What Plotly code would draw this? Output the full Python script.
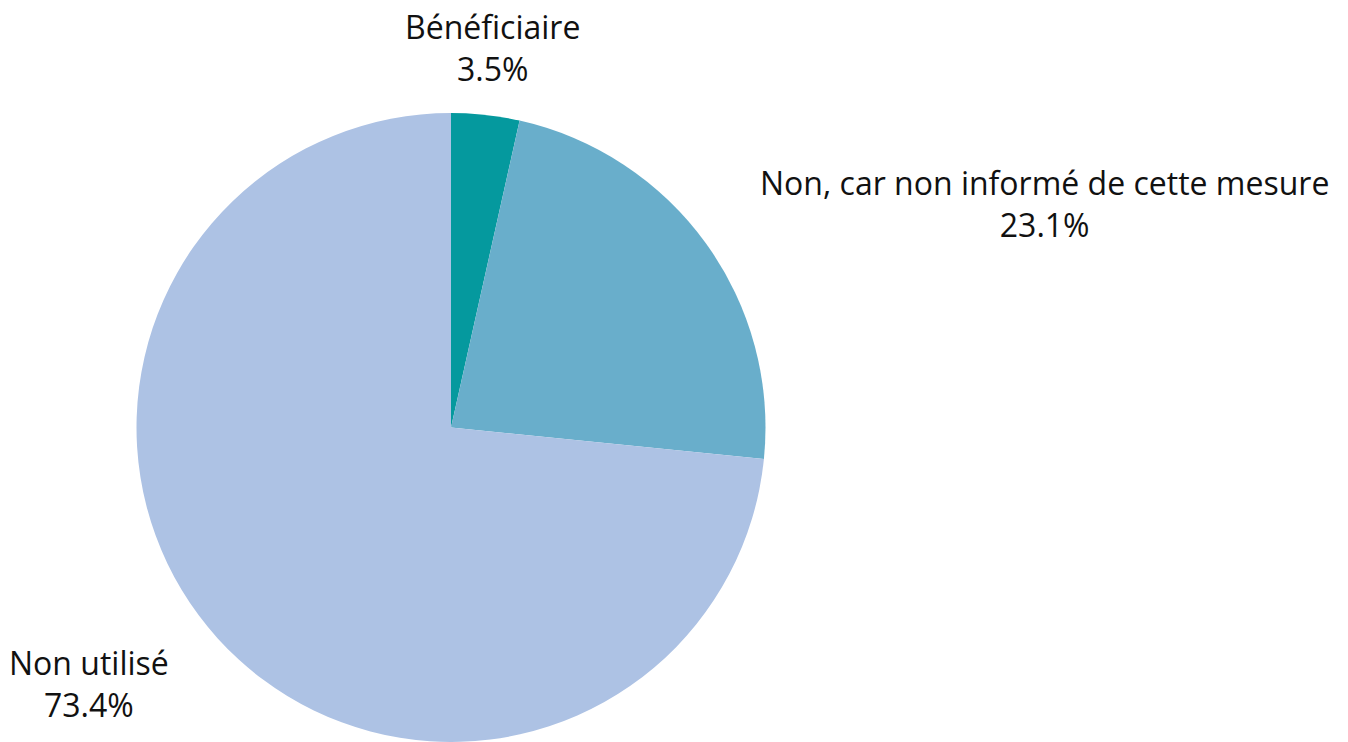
import math
import plotly.graph_objects as go

# Survey answers and their shares (%)
labels = ["Bénéficiaire", "Non, car non informé de cette mesure", "Non utilisé"]
values = [3.5, 23.1, 73.4]
colors = ["#05999e", "#69aecb", "#adc2e4"]

W, H = 1348, 742
cx, cy, radius = 451, 427.5, 314.5
label_radius = 382
edge_left, edge_right = 7, 17

fig = go.Figure(
    go.Pie(
        labels=labels,
        values=values,
        sort=False,
        direction="clockwise",
        rotation=0,
        marker=dict(colors=colors, line=dict(width=0)),
        textinfo="none",
        hoverinfo="label+percent",
        showlegend=False,
        domain=dict(
            x=[(cx - radius) / W, (cx + radius) / W],
            y=[1 - (cy + radius) / H, 1 - (cy - radius) / H],
        ),
    )
)

# Outside labels placed along each slice's mid-angle, side labels pinned to the edges
total = sum(values)
start = 0.0
for lab, val in zip(labels, values):
    mid = (start + val / 2) / total * 2 * math.pi
    start += val
    px = cx + label_radius * math.sin(mid)
    py = cy - label_radius * math.cos(mid)
    s = math.sin(mid)
    if abs(s) < 0.3:
        x, xanchor = px, "center"
    elif s > 0:
        x, xanchor = W - edge_right, "right"
    else:
        x, xanchor = edge_left, "left"
    fig.add_annotation(
        x=x / W, y=1 - py / H, xref="paper", yref="paper",
        xanchor=xanchor, yanchor="middle", align="center",
        text=f"{lab}<br>{val:.1f}%", showarrow=False,
        font=dict(family="Open Sans", size=32, color="#111111"),
    )

fig.update_layout(
    width=W, height=H,
    margin=dict(l=0, r=0, t=0, b=0),
    paper_bgcolor="white",
    plot_bgcolor="white",
)

fig.write_html("out.html")
